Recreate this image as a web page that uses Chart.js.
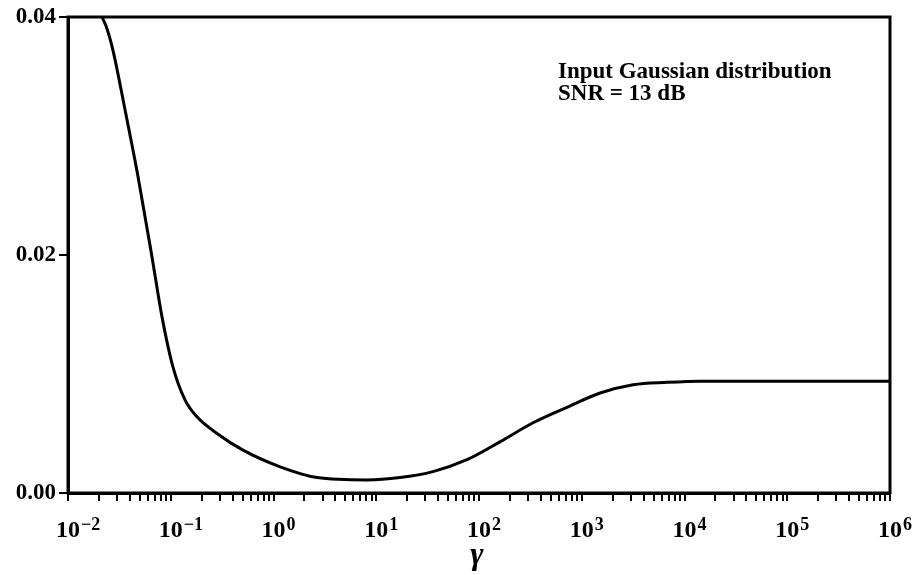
<!DOCTYPE html>
<html>
<head>
<meta charset="utf-8">
<script src="https://cdn.jsdelivr.net/npm/chart.js@4"></script>
<style>
  html, body { margin: 0; padding: 0; background: #fff; }
  #wrap { width: 918px; height: 575px; position: relative; }
</style>
</head>
<body>
<div id="wrap"><canvas id="mseChart"></canvas></div>
<script>
// values (gamma on a log axis)
const gamma = [0.0214, 0.0240, 0.0274, 0.0359, 0.048, 0.0658, 0.0822, 0.105, 0.138, 0.180, 0.282,
               0.505, 1.16, 2.65, 8.13, 17.0, 35.6, 76.4, 160, 336, 718,
               1510, 3160, 6760, 14200, 100000, 1000000];
const mse = [0.0400, 0.0390, 0.0372, 0.0322, 0.0266, 0.0198, 0.0148, 0.0106, 0.0078, 0.0064, 0.0050,
             0.0036, 0.0022, 0.0013, 0.0011, 0.0013, 0.0018, 0.0028, 0.0043, 0.0059, 0.0072,
             0.0084, 0.0091, 0.0093, 0.0094, 0.0094, 0.0094];
const xDecades = [-2, -1, 0, 1, 2, 3, 4, 5, 6];
const yTicks = [0, 0.02, 0.04];
const noteLines = ['Input Gaussian distribution', 'SNR = 13 dB'];
const axisTitle = 'γ';

const serif = "'Liberation Serif', 'DejaVu Serif', serif";

// frame, decade labels and the note
const decor = {
    id: 'decor',
    afterDraw(chart) {
        const ctx = chart.ctx;
        const a = chart.chartArea;
        const x = chart.scales.x;
        ctx.save();
        ctx.strokeStyle = '#000';
        ctx.lineWidth = 3;
        ctx.strokeRect(a.left, a.top, a.right - a.left, a.bottom - a.top);

        ctx.fillStyle = '#000';
        ctx.textBaseline = 'alphabetic';
        xDecades.forEach(function(e) {
            const px = x.getPixelForValue(Math.pow(10, e));
            ctx.font = 'bold 24px ' + serif;
            const w = ctx.measureText('10').width;
            ctx.textAlign = 'center';
            ctx.fillText('10', px, 537);
            ctx.font = 'bold 18px ' + serif;
            ctx.textAlign = 'left';
            const ex = e < 0 ? '\u2212' + Math.abs(e) : String(e);
            ctx.fillText(ex, px + w / 2 + 1, 530);
        });

        ctx.font = 'bold italic 32px ' + serif;
        ctx.textAlign = 'center';
        ctx.fillText(axisTitle, 477, 564);

        ctx.font = 'bold 23px ' + serif;
        ctx.textAlign = 'left';
        noteLines.forEach(function(t, i) {
            ctx.fillText(t, 558, 78 + i * 22);
        });
        ctx.restore();
    }
};

new Chart(document.getElementById('mseChart'), {
    type: 'line',
    data: {
        datasets: [{
            data: gamma.map((g, i) => ({ x: g, y: mse[i] })),
            borderColor: '#000',
            borderWidth: 3,
            pointRadius: 0,
            fill: false,
            cubicInterpolationMode: 'monotone'
        }]
    },
    options: {
        responsive: true,
        maintainAspectRatio: false,
        animation: false,
        layout: { padding: { top: 17, right: 28, left: 0, bottom: 0 } },
        plugins: { legend: { display: false }, tooltip: { enabled: false } },
        scales: {
            x: {
                type: 'logarithmic',
                min: 0.01,
                max: 1e6,
                afterBuildTicks(scale) {
                    const t = [];
                    for (let e = -2; e < 6; e++) {
                        for (let m = 1; m < 10; m++) t.push({ value: m * Math.pow(10, e) });
                    }
                    t.push({ value: 1e6 });
                    scale.ticks = t;
                },
                afterFit(scale) { scale.height = 82; },
                ticks: { display: false, autoSkip: false },
                grid: { drawOnChartArea: false, drawTicks: true, tickLength: 8, color: '#000', lineWidth: 2 },
                border: { display: true, color: '#000', width: 3 }
            },
            y: {
                min: 0,
                max: 0.04,
                afterBuildTicks(scale) {
                    scale.ticks = yTicks.map(v => ({ value: v }));
                },
                afterFit(scale) { scale.width = 68; },
                ticks: {
                    color: '#000',
                    padding: 3,
                    font: { family: serif, size: 23, weight: 'bold' },
                    callback: v => v.toFixed(2)
                },
                grid: { drawOnChartArea: false, drawTicks: true, tickLength: 9, color: '#000', lineWidth: 2 },
                border: { display: true, color: '#000', width: 3 }
            }
        }
    },
    plugins: [decor]
});
</script>
</body>
</html>
